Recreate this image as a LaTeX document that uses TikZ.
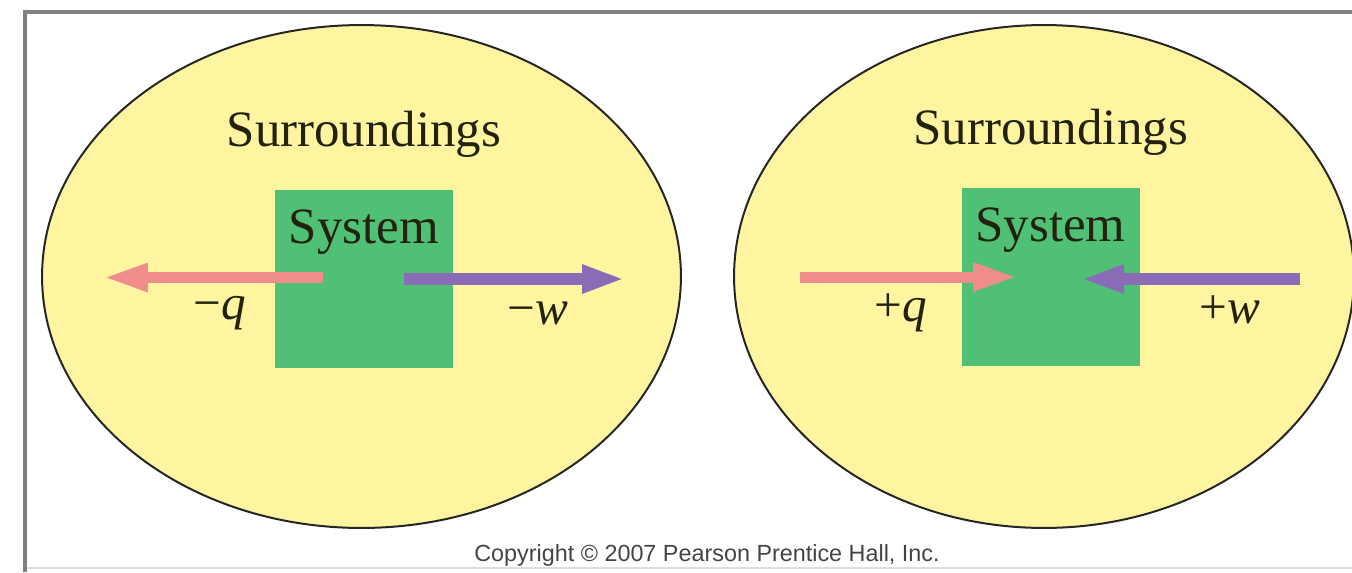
\documentclass[tikz,border=0pt]{standalone}
\usepackage{fontspec}
\setmainfont{Liberation Serif}
\newfontfamily\copyfont{Liberation Sans}
\usepackage{xcolor}
\definecolor{surrfill}{HTML}{FFF5A0}
\definecolor{sysfill}{HTML}{50C076}
\definecolor{heatpink}{HTML}{F08C8C}
\definecolor{workpurple}{HTML}{8A6BB5}
\definecolor{framegray}{HTML}{808080}
\definecolor{inktext}{HTML}{22220F}
\definecolor{copygray}{HTML}{444444}
\usetikzlibrary{shapes.geometric, arrows.meta, positioning}

\begin{document}
\begin{tikzpicture}[
        x=0.02cm, y=-0.02cm,
        surr/.style={
            ellipse,
            draw=black!85,
            line width=0.04cm,
            fill=surrfill,
            inner sep=0pt
        },
        sysbox/.style={
            rectangle,
            fill=sysfill,
            minimum width=3.56cm,
            minimum height=3.56cm,
            inner sep=0pt
        },
        bigtext/.style={inner sep=0pt, font=\fontsize{29}{34}\selectfont, text=inktext},
        sign/.style={inner sep=0pt, anchor=base, font=\fontsize{28}{33}\selectfont, text=inktext},
        heat/.style={
            draw=heatpink,
            line width=0.22cm,
            -{Triangle[length=0.9cm, width=0.52cm]}
        },
        work/.style={
            draw=workpurple,
            line width=0.24cm,
            -{Triangle[length=0.86cm, width=0.52cm]}
        }
    ]
    \useasboundingbox (0,0) rectangle (1352,572);

    % Frame
    \draw[gray!25, line width=0.03cm] (25,568) -- (1352,568);
    \draw[framegray, line width=0.08cm] (25,572) -- (25,12) -- (1352,12);

    % Left: heat and work leave the system
    \node[surr, minimum width=12.78cm, minimum height=10.06cm] (surrL) at (361.5,276.5) {};
    \node[sysbox] (sysL) at (364,279) {};
    \node[bigtext, above=0.64cm of sysL] (surrTxtL) {Surroundings};
    \node[bigtext, below=0.4cm of sysL.north] (sysTxtL) {System};

    % Right: heat and work enter the system
    \node[surr, minimum width=12.4cm, minimum height=10.06cm] (surrR) at (1044,276.5) {};
    \node[sysbox, right=10.16cm of sysL, yshift=0.04cm] (sysR) {};
    \node[bigtext, above=0.64cm of sysR] (surrTxtR) {Surroundings};
    \node[bigtext, below=0.4cm of sysR.north] (sysTxtR) {System};

    % Arrow ends
    \coordinate (qOutTail) at (323,277.5);
    \coordinate (qOutTip) at (103,277.5);
    \coordinate (wOutTail) at (404,279);
    \coordinate (wOutTip) at (625,279);
    \coordinate (qInTail) at (800,277);
    \coordinate (qInTip) at (1018,277);
    \coordinate (wInTail) at (1300,279);
    \coordinate (wInTip) at (1081,279);

    % Arrows
    \draw[heat] (qOutTail) -- (qOutTip);
    \draw[work] (wOutTail) -- (wOutTip);
    \draw[heat] (qInTail) -- (qInTip);
    \draw[work] (wInTail) -- (wInTip);

    % Signs
    \node[sign] (qMinus) at (220,319) {−\textit{q}};
    \node[sign] (wMinus) at (538,324) {−\textit{w}};
    \node[sign] (qPlus) at (901,321) {+\textit{q}};
    \node[sign] (wPlus) at (1230,323) {+\textit{w}};

    % Copyright
    \node[inner sep=0pt, font=\copyfont\fontsize{13.3}{16}\selectfont, text=copygray] (copy) at (707,555) {Copyright © 2007 Pearson Prentice Hall, Inc.};

\end{tikzpicture}
\end{document}
